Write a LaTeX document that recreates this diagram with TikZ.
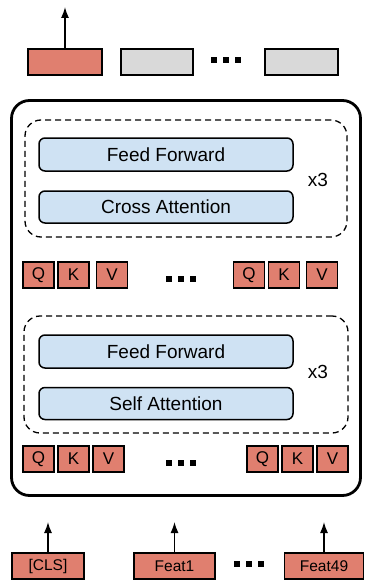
\documentclass[tikz,border=0pt]{standalone}
\usepackage{fontspec}
\setmainfont{Liberation Sans}
\usetikzlibrary{arrows.meta,positioning}
\definecolor{salmon}{HTML}{E07F6F}
\definecolor{lgray}{HTML}{D9D9D9}
\definecolor{lblue}{HTML}{CFE2F3}
\newcommand{\tdots}{\rule{6pt}{6pt}\hspace{6pt}\rule{6pt}{6pt}\hspace{6pt}\rule{6pt}{6pt}}

\begin{document}
\begin{tikzpicture}[x=1pt,y=-1pt,
  tok/.style={draw,line width=1.5pt,fill=salmon,minimum height=26pt,inner sep=0pt,font=\fontsize{15.5}{17}\selectfont},
  qkv/.style={tok,minimum width=31pt,font=\fontsize{17}{19}\selectfont},
  gry/.style={draw,line width=1.5pt,fill=lgray,minimum height=26pt,inner sep=0pt},
  blk/.style={draw,line width=1.5pt,fill=lblue,rounded corners=6pt,minimum width=254pt,inner sep=0pt,font=\fontsize{19}{21}\selectfont},
  grp/.style={draw,line width=1.3pt,dash pattern=on 6pt off 4pt,rounded corners=16pt,minimum height=117pt,inner sep=0pt},
  tdot/.style={inner sep=0pt},
  up/.style={-{Latex[length=11pt,width=8pt]},line width=1.4pt}]
\useasboundingbox (0,0) rectangle (364,583);

% outputs
\node[tok,minimum width=74pt] (o1) at (65,62) {};
\node[gry,minimum width=72pt] (o2) at (157,62) {};
\node[tdot] (od) at (226,60) {\tdots};
\node[gry,minimum width=73pt] (o3) at (301.5,62) {};
\coordinate (out) at (65,7);
\draw[up] (o1.north)--(out);

% encoder
\node[draw,line width=2.8pt,rounded corners=18pt,minimum width=349pt,minimum height=395pt] (enc) at (186,298) {};

% cross attention stack
\node[grp,minimum width=322pt] (g1) at (186,178.5) {};
\node[blk,minimum height=33pt] (ff1) at (166,154.5) {Feed Forward};
\node[blk,minimum height=32pt] (ca) at (166,207) {Cross Attention};
\node[font=\fontsize{19}{21}\selectfont] (r1) at (318,180) {x3};

\foreach \x/\l/\id in {38.5/Q/1,73.5/K/2,112/V/3,249/Q/4,284/K/5,322/V/6}
  \node[qkv] (a\id) at (\x,275) {\l};
\node[tdot] (ad) at (181,279) {\tdots};

% self attention stack
\node[grp,minimum width=324pt] (g2) at (186,374.5) {};
\node[blk,minimum height=33pt] (ff2) at (166,351.5) {Feed Forward};
\node[blk,minimum height=32pt] (sa) at (166,403.5) {Self Attention};
\node[font=\fontsize{19}{21}\selectfont] (r2) at (318,372) {x3};

\foreach \x/\l/\id in {38.5/Q/1,73.5/K/2,108.5/V/3,262.5/Q/4,297.5/K/5,332.5/V/6}
  \node[qkv] (b\id) at (\x,459) {\l};
\node[tdot] (bd) at (180.5,463) {\tdots};

% inputs
\foreach \x/\w/\t/\id in {48/72/{[CLS]}/1,174.5/81/Feat1/2,324/79/Feat49/3}{
  \node[tok,minimum width=\w pt] (i\id) at (\x,566) {\t};
  \coordinate (e\id) at (\x,522);
  \draw[up] (i\id.north)--(e\id);
}
\node[tdot] (id) at (248.5,564) {\tdots};
\end{tikzpicture}
\end{document}
